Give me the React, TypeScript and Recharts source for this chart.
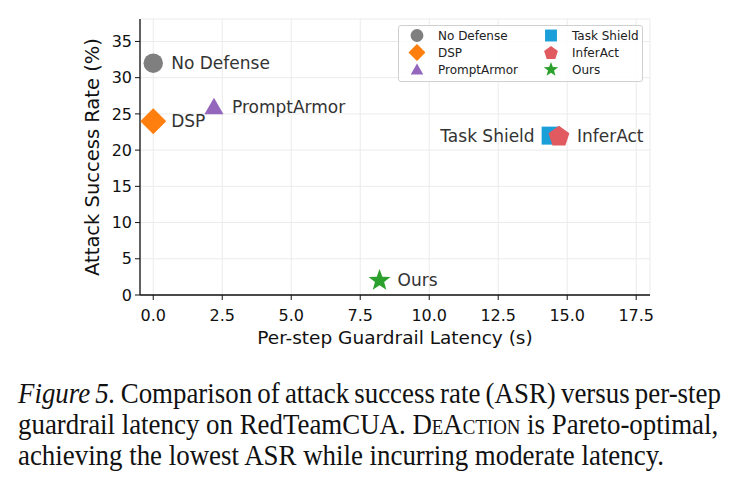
import { CartesianGrid, Scatter, ScatterChart, XAxis, YAxis } from 'recharts'

// Methods, latency (s) and attack success rate (%)
const methods = ['No Defense', 'DSP', 'PromptArmor', 'Task Shield', 'InferAct', 'Ours']
const latency = [0, 0, 2.2, 14.4, 14.7, 8.2]
const asr = [32, 24, 26, 22, 22, 2]

const xTicks = [0, 2.5, 5, 7.5, 10, 12.5, 15, 17.5]
const yTicks = [0, 5, 10, 15, 20, 25, 30, 35]

const COLORS: Record<string, string> = {
  'No Defense': '#7f7f7f',
  DSP: '#ff7f0e',
  PromptArmor: '#9467bd',
  'Task Shield': '#1a9fd8',
  InferAct: '#e05a5f',
  Ours: '#2ca02c',
}

const SHAPES: Record<string, string> = {
  'No Defense': 'circle',
  DSP: 'diamond',
  PromptArmor: 'triangle',
  'Task Shield': 'square',
  InferAct: 'pentagon',
  Ours: 'star',
}

// labels sit to the right of the marker, except Task Shield which sits left
const LABEL_LEFT = new Set(['Task Shield'])

const FONT = '"DejaVu Sans", sans-serif'

function polygon(cx: number, cy: number, r: number, n: number, rot = -Math.PI / 2, inner?: number) {
  const pts: string[] = []
  const count = inner ? n * 2 : n
  for (let i = 0; i < count; i++) {
    const a = rot + (i * 2 * Math.PI) / count
    const rr = inner && i % 2 === 1 ? inner : r
    pts.push(`${cx + rr * Math.cos(a)},${cy + rr * Math.sin(a)}`)
  }
  return pts.join(' ')
}

function Marker({ kind, cx, cy, color, s = 1 }: { kind: string; cx: number; cy: number; color: string; s?: number }) {
  switch (kind) {
    case 'circle':
      return <circle cx={cx} cy={cy} r={9.7 * s} fill={color} />
    case 'diamond':
      return <polygon points={polygon(cx, cy, 13 * s, 4)} fill={color} />
    case 'triangle':
      return <polygon points={polygon(cx, cy + 2 * s, 11 * s, 3)} fill={color} />
    case 'square':
      return <rect x={cx - 9 * s} y={cy - 9 * s} width={18 * s} height={18 * s} fill={color} />
    case 'pentagon':
      return <polygon points={polygon(cx, cy + 1 * s, 11 * s, 5)} fill={color} />
    default:
      return <polygon points={polygon(cx, cy, 11.5 * s, 5, -Math.PI / 2, 4.8 * s)} fill={color} />
  }
}

const data = methods.map((name, i) => ({ name, latency: latency[i], asr: asr[i] }))

function PointShape(props: any) {
  const { cx, cy, payload } = props
  const name = payload.name as string
  const left = LABEL_LEFT.has(name)
  return (
    <g>
      <Marker kind={SHAPES[name]} cx={cx} cy={cy} color={COLORS[name]} />
      <text
        x={left ? cx - 16 : cx + 18}
        y={cy}
        dy="0.35em"
        textAnchor={left ? 'end' : 'start'}
        fontFamily={FONT}
        fontSize={17}
        fill="#333"
      >
        {name}
      </text>
    </g>
  )
}

function LegendBox() {
  const order = ['No Defense', 'Task Shield', 'DSP', 'InferAct', 'PromptArmor', 'Ours']
  return (
    <div
      style={{
        position: 'absolute',
        left: 398,
        top: 25,
        width: 245,
        height: 57,
        boxSizing: 'border-box',
        border: '1px solid #d0d0d0',
        borderRadius: 3,
        background: 'rgba(255,255,255,0.85)',
        display: 'grid',
        gridTemplateColumns: '134px 109px',
        gridAutoRows: '17px',
        paddingTop: 1,
        fontFamily: FONT,
        fontSize: 12,
        color: '#222',
      }}
    >
      {order.map((name) => (
        <div key={name} style={{ display: 'flex', alignItems: 'center' }}>
          <svg width={26} height={17} style={{ flex: 'none' }}>
            <Marker kind={SHAPES[name]} cx={18} cy={8.5} color={COLORS[name]} s={0.66} />
          </svg>
          <span style={{ marginLeft: 13, whiteSpace: 'nowrap' }}>{name}</span>
        </div>
      ))}
    </div>
  )
}

const captionStyle = {
  position: 'absolute' as const,
  left: 18,
  top: 378,
  whiteSpace: 'nowrap' as const,
  fontFamily: '"Liberation Serif", "Times New Roman", serif',
  fontSize: 28.5,
  lineHeight: '31px',
  color: '#111',
  transform: 'scaleX(0.943)',
  transformOrigin: 'left top',
}

export default function App() {
  return (
    <div style={{ position: 'absolute', left: 0, top: 0, width: 738, height: 485, background: '#fff', overflow: 'hidden' }}>
      <ScatterChart width={738} height={361} margin={{ top: 19, right: 88, left: 60, bottom: 17 }}>
        <CartesianGrid stroke="#ebebeb" strokeWidth={1} />
        <XAxis
          type="number"
          dataKey="latency"
          domain={[-0.48, 18]}
          ticks={xTicks}
          allowDataOverflow
          tickFormatter={(v: number) => v.toFixed(1)}
          tick={{ fontFamily: FONT, fontSize: 16, fill: '#111' }}
          tickSize={5}
          tickMargin={10}
          axisLine={{ stroke: '#111', strokeWidth: 1.3 }}
          tickLine={{ stroke: '#111' }}
          height={49}
          label={{
            value: 'Per-step Guardrail Latency (s)',
            position: 'insideBottom',
            offset: 0,
            style: { fontFamily: FONT, fontSize: 18.5, fill: '#111' },
          }}
        />
        <YAxis
          type="number"
          dataKey="asr"
          domain={[0, 38.1]}
          ticks={yTicks}
          allowDataOverflow
          tick={{ fontFamily: FONT, fontSize: 16, fill: '#111' }}
          tickSize={5}
          tickMargin={3}
          axisLine={{ stroke: '#111', strokeWidth: 1.3 }}
          tickLine={{ stroke: '#111' }}
          width={80}
          label={{
            value: 'Attack Success Rate (%)',
            angle: -90,
            position: 'insideLeft',
            offset: 32,
            style: { fontFamily: FONT, fontSize: 19.5, fill: '#111', textAnchor: 'middle' },
          }}
        />
        <Scatter data={data} shape={PointShape} isAnimationActive={false} />
      </ScatterChart>
      <LegendBox />
      <div style={captionStyle}>
        <span style={{ wordSpacing: -1.6 }}>
          <i>Figure 5.</i> Comparison of attack success rate (ASR) versus per-step
        </span>
        <br />
        guardrail latency on RedTeamCUA. <span style={{ fontVariant: 'small-caps' }}>DeAction</span> is Pareto-optimal,
        <br />
        achieving the lowest ASR while incurring moderate latency.
      </div>
    </div>
  )
}
